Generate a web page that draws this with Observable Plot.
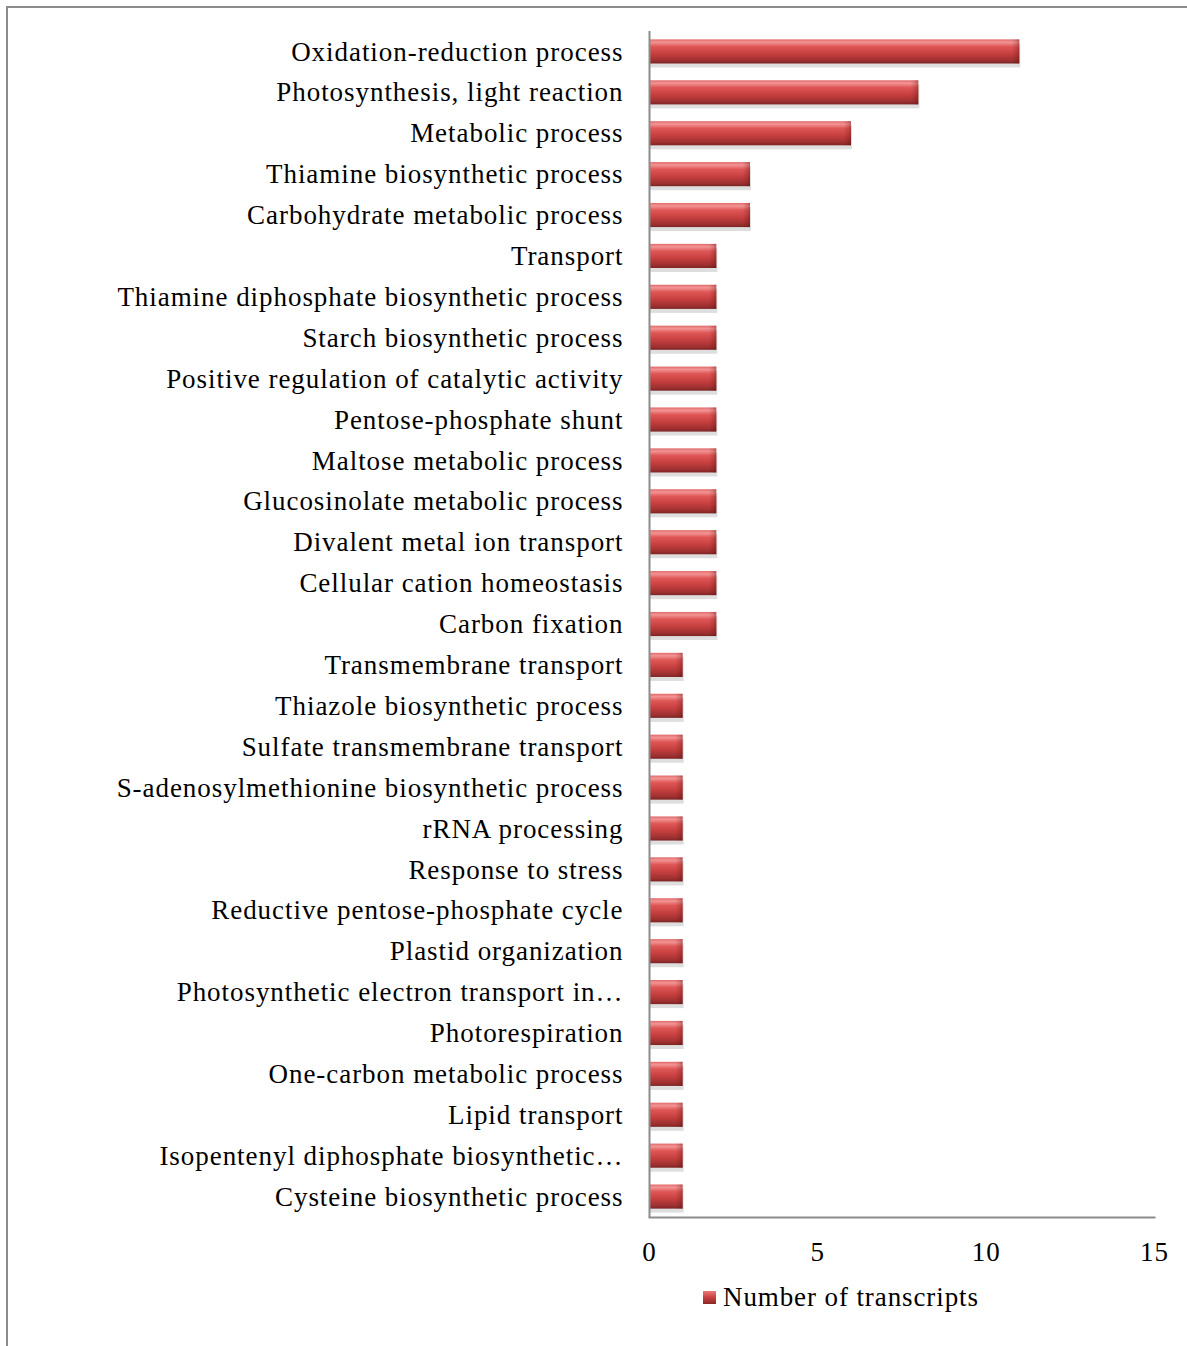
<!DOCTYPE html>
<html><head><meta charset="utf-8">
<script src="https://cdn.jsdelivr.net/npm/d3@7"></script>
<script src="https://cdn.jsdelivr.net/npm/@observablehq/plot@0.6"></script>
<style>
body{margin:0;background:#fff;width:1187px;height:1346px;overflow:hidden;position:relative;font-family:"Liberation Serif","Times New Roman",serif;}
#frame{position:absolute;left:6px;top:6px;right:-5px;bottom:-5px;border-top:2px solid #8c8c8c;border-left:2px solid #8c8c8c;}
#chart{position:absolute;left:0;top:0;}
#chart svg text{letter-spacing:0.95px;}
#legend{position:absolute;left:703px;top:1282px;font-size:27px;letter-spacing:0.9px;display:flex;align-items:center;color:#000;}
#legend svg{margin-right:7px;}
</style></head><body>
<div id="frame"></div><div id="chart"></div>
<div id="legend"><svg width="13" height="13"><defs><linearGradient id="legGrad" x1="0" y1="0" x2="0" y2="1"><stop offset="0" stop-color="#e87a7a"/><stop offset="0.5" stop-color="#c94040"/><stop offset="1" stop-color="#8a2626"/></linearGradient></defs><rect width="13" height="13" fill="url(#legGrad)"/></svg><span id="legText"></span></div>
<script>
const categories = [
  "Oxidation-reduction process",
  "Photosynthesis, light reaction",
  "Metabolic process",
  "Thiamine biosynthetic process",
  "Carbohydrate metabolic process",
  "Transport",
  "Thiamine diphosphate biosynthetic process",
  "Starch biosynthetic process",
  "Positive regulation of catalytic activity",
  "Pentose-phosphate shunt",
  "Maltose metabolic process",
  "Glucosinolate metabolic process",
  "Divalent metal ion transport",
  "Cellular cation homeostasis",
  "Carbon fixation",
  "Transmembrane transport",
  "Thiazole biosynthetic process",
  "Sulfate transmembrane transport",
  "S-adenosylmethionine biosynthetic process",
  "rRNA processing",
  "Response to stress",
  "Reductive pentose-phosphate cycle",
  "Plastid organization",
  "Photosynthetic electron transport in…",
  "Photorespiration",
  "One-carbon metabolic process",
  "Lipid transport",
  "Isopentenyl diphosphate biosynthetic…",
  "Cysteine biosynthetic process"
];
const values = [11, 8, 6, 3, 3, 2, 2, 2, 2, 2, 2, 2, 2, 2, 2, 1, 1, 1, 1, 1, 1, 1, 1, 1, 1, 1, 1, 1, 1];
const xTicks = [0, 5, 10, 15];
const seriesName = "Number of transcripts";

const data = categories.map((c, i) => ({category: c, value: values[i]}));
document.getElementById("legText").textContent = seriesName;

const chart = Plot.plot({
  width: 1187,
  height: 1277,
  marginLeft: 649,
  marginRight: 33,
  marginTop: 31,
  marginBottom: 60,
  x: {domain: [0, 15], ticks: xTicks},
  y: {domain: categories, paddingInner: 0.41, paddingOuter: 0.205, round: false},
  style: {fontFamily: "'Liberation Serif', 'Times New Roman', serif", fontSize: "27px", color: "#000", background: "transparent"},
  marks: [
    Plot.barX(data, {x: "value", y: "category", fill: "#dedede", dy: 4, dx: 1}),
    Plot.barX(data, {x: "value", y: "category", fill: "url(#barGrad)"}),
    Plot.barX(data, {x1: d => d.value - 0.22, x2: "value", y: "category", fill: "url(#capGrad)"}),
    Plot.ruleX([0], {stroke: "#8c8c8c", strokeWidth: 2}),
    Plot.frame({anchor: "bottom", stroke: "#8c8c8c", strokeWidth: 2}),
    Plot.axisY({tickSize: 0, tickPadding: 26, fontSize: 27, label: null}),
    Plot.axisX({ticks: xTicks, tickSize: 0, tickPadding: 24, fontSize: 27, label: null})
  ]
});

const svg = d3.select(chart);
const defs = svg.insert("defs", ":first-child");
const g = defs.append("linearGradient").attr("id", "barGrad").attr("x1", 0).attr("y1", 0).attr("x2", 0).attr("y2", 1);
[[0, "#e06a6a"], [0.12, "#f39494"], [0.3, "#df5656"], [0.6, "#c63f3f"], [0.88, "#9e3030"], [1, "#7c2424"]]
  .forEach(([o, c]) => g.append("stop").attr("offset", o).attr("stop-color", c));
const cg = defs.append("linearGradient").attr("id", "capGrad").attr("x1", 0).attr("y1", 0).attr("x2", 1).attr("y2", 0);
[[0, "rgba(90,10,10,0)"], [0.6, "rgba(90,10,10,0.18)"], [1, "rgba(70,5,5,0.35)"]]
  .forEach(([o, c]) => cg.append("stop").attr("offset", o).attr("stop-color", c));
document.getElementById("chart").appendChild(chart);
</script>
</body></html>
